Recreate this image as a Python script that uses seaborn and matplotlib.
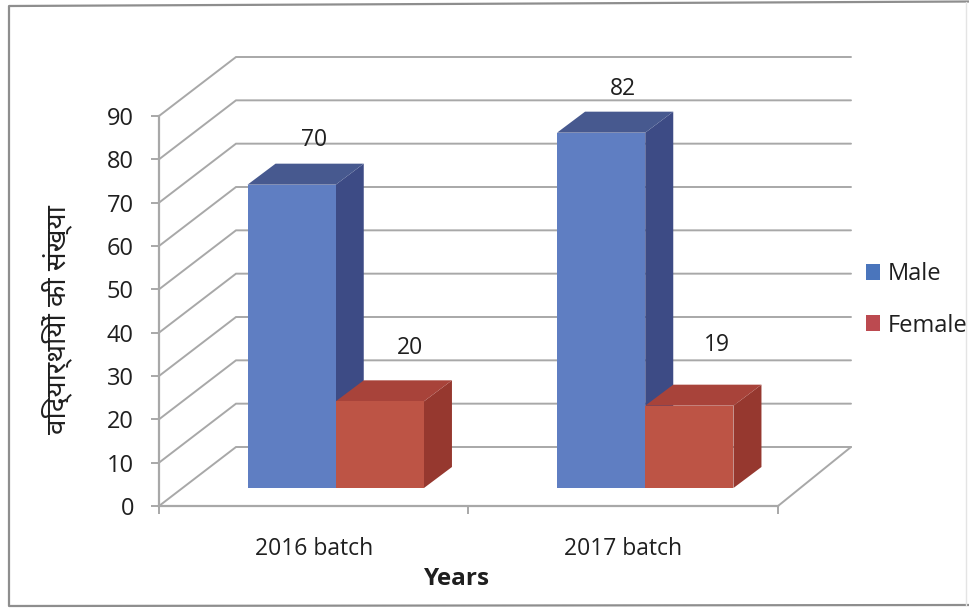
import matplotlib
matplotlib.use("Agg")
import matplotlib.pyplot as plt
import seaborn as sns
import pandas as pd
from matplotlib import font_manager as fm
from matplotlib.lines import Line2D
from matplotlib.patches import Polygon, Patch
from matplotlib.transforms import Affine2D, IdentityTransform

batches = ["2016 batch", "2017 batch"]
male = [70, 82]
female = [20, 19]
y_ticks = list(range(0, 100, 10))
y_title = "विद्यार्थियों की संख्या"
x_title = "Years"

FRONT = {"Male": "#5F7EC2", "Female": "#BD5445"}
TOP = {"Male": "#47598F", "Female": "#A8433A"}
SIDE = {"Male": "#3D4B85", "Female": "#96382F"}
SWATCH = {"Male": "#4A75BC", "Female": "#BC4A50"}
GRID = "#A8A8A8"
TEXT = "#1F1F1F"

sns.set_theme(style="white")
plt.rcParams["font.family"] = ["Open Sans", "DejaVu Sans"]

installed = {f.name for f in fm.fontManager.ttflist}
deva_pref = ["Noto Sans Devanagari", "Mukta", "Ek Mukta", "Hind", "Annapurna SIL", "FreeSans", "FreeMono"]
deva_family = [n for n in deva_pref if n in installed] + ["Open Sans", "DejaVu Sans"]

W, H = 970, 609
fig = plt.figure(figsize=(W / 100, H / 100), dpi=100, facecolor="white")
ax = fig.add_axes([159 / W, (H - 506) / H, 619 / W, 390 / H])
ax.set_facecolor("none")

df = pd.DataFrame({
    "batch": batches * 2,
    "sex": ["Male"] * len(male) + ["Female"] * len(female),
    "count": male + female,
})
sns.barplot(data=df, x="batch", y="count", hue="sex", hue_order=["Male", "Female"],
            palette=FRONT, width=0.57, gap=0, saturation=1, ax=ax, legend=False, linewidth=0)
ax.set_xlim(-0.5, 1.5)
ax.set_ylim(0, 90)

# 3D look: walls, floor, and bar depth, all derived from the axes scales (pixels)
wall_left, wall_right, wall_up = 77, 73, 59
depth = (28, 21)
bar_shift = (22, 18)
px = IdentityTransform()
for t in y_ticks:
    p0 = ax.transData.transform((-0.5, t))
    p2 = ax.transData.transform((1.5, t))
    ax.plot([p0[0], p0[0] + wall_left, p2[0] + wall_right],
            [p0[1], p0[1] + wall_up, p2[1] + wall_up],
            transform=px, color=GRID, lw=1.4, zorder=1, clip_on=False, solid_joinstyle="miter")
p = ax.transData.transform((1.5, 0))
ax.plot([p[0], p[0] + wall_right], [p[1], p[1] + wall_up], transform=px, color=GRID, lw=1.4,
        zorder=1, clip_on=False)

bar_tf = ax.transData + Affine2D().translate(*bar_shift)
label_offsets = {"Male": [(22, 45), (22, 44)], "Female": [(30, 53), (28, 61)]}
for k, (name, cont) in enumerate(zip(["Male", "Female"], ax.containers)):
    for i, bar in enumerate(cont):
        z = 3 + k
        bar.set_transform(bar_tf)
        bar.set_zorder(z + 0.5)
        bar.set_clip_on(False)
        (x0, y0), (x1, y1) = bar_tf.transform(
            [(bar.get_x(), 0), (bar.get_x() + bar.get_width(), bar.get_height())])
        dx, dy = depth
        ax.add_patch(Polygon([(x1, y0), (x1 + dx, y0 + dy), (x1 + dx, y1 + dy), (x1, y1)],
                             transform=px, fc=SIDE[name], ec="none", zorder=z, clip_on=False))
        ax.add_patch(Polygon([(x0, y1), (x1, y1), (x1 + dx, y1 + dy), (x0 + dx, y1 + dy)],
                             transform=px, fc=TOP[name], ec="none", zorder=z, clip_on=False))
        ax.annotate(str(int(bar.get_height())),
                    xy=(bar.get_x() + bar.get_width() / 2, bar.get_height()),
                    xycoords=bar_tf, xytext=label_offsets[name][i], textcoords="offset pixels",
                    ha="center", va="center", fontsize=16.5, color=TEXT, zorder=6)

# axes furniture
sns.despine(ax=ax)
for s in ("left", "bottom"):
    ax.spines[s].set_color(GRID)
    ax.spines[s].set_linewidth(1.6)
ax.set_yticks(y_ticks)
ax.tick_params(axis="y", length=6, width=1.4, color=GRID, pad=12, labelsize=17, labelcolor=TEXT, left=True)
ax.set_xticks([0, 1], batches)
ax.set_xticks([-0.5, 0.5, 1.5], minor=True)
ax.tick_params(axis="x", which="major", length=0, pad=22, labelsize=16.5, labelcolor=TEXT)
ax.tick_params(axis="x", which="minor", length=6, width=1.4, color=GRID, bottom=True)
ax.set_xlabel(x_title, fontsize=17.5, fontweight="bold", color=TEXT)
ax.xaxis.set_label_coords((457 - 159) / 619, (506 - 579) / 390)
ax.xaxis.label.set_verticalalignment("center")
ax.set_ylabel(y_title, fontsize=20, color=TEXT, family=deva_family)
ax.yaxis.set_label_coords((72 - 159) / 619, (506 - 320) / 390)

handles = [Patch(fc=SWATCH[n], ec="none", label=n) for n in ("Male", "Female")]
fig.legend(handles=handles, loc="center left", bbox_to_anchor=(866 / W, (H - 300) / H), frameon=False,
           fontsize=17, labelcolor=TEXT, handlelength=0.6, handleheight=0.64, handletextpad=0.3,
           labelspacing=1.15, borderpad=0, borderaxespad=0)

# scanned outer frame (slightly skewed)
frame_x = [970, 9, 9, 970]
frame_y = [1.5, 6, 606, 605]
fig.add_artist(Line2D([x / W for x in frame_x], [(H - y) / H for y in frame_y],
                      transform=fig.transFigure, color="#8E8E8E", lw=1.6))
fig.add_artist(Line2D([966 / W, 966 / W], [(H - 2) / H, (H - 605) / H],
                      transform=fig.transFigure, color="#E4E4E4", lw=1.0))
fig.savefig("out.png", dpi=100)
